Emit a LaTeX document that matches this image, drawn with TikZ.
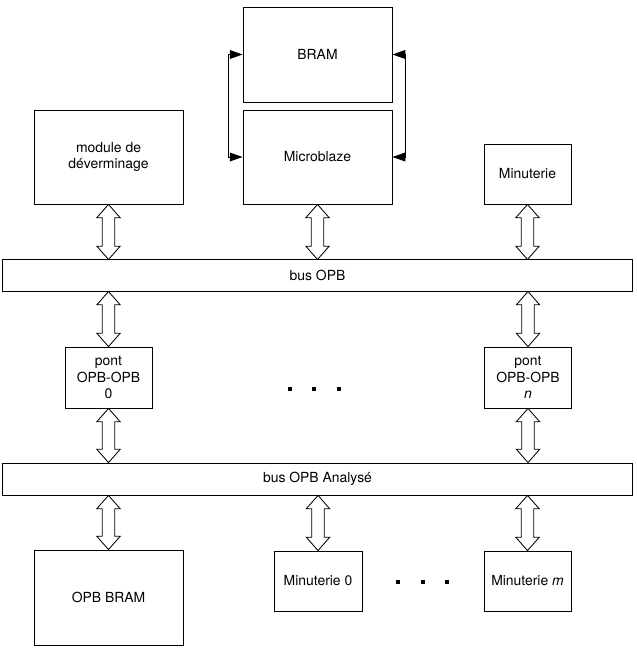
\documentclass[tikz,border=0pt]{standalone}
\usepackage{fontspec}
\setmainfont{TeX Gyre Heros}
\usetikzlibrary{arrows.meta, calc, positioning}

\tikzset{
  block/.style={draw, line width=0.6pt, align=center, inner sep=0pt,
    font=\fontsize{9.9}{11.6}\selectfont},
  bigblock/.style={block, minimum width=3.725cm, minimum height=2.35cm},
  smallblock/.style={block, minimum width=2.175cm, minimum height=1.5cm},
  bus/.style={block, minimum width=15.725cm, minimum height=0.78cm},
  busarrow/.style={draw, fill=white, line width=0.6pt, line join=miter,
    to path={-- ($(\tikztostart)+(11.7,13.3)$) -- ($(\tikztostart)+(6.2,13.3)$)
      -- ($(\tikztotarget)+(6.2,-13.3)$) -- ($(\tikztotarget)+(11.7,-13.3)$)
      -- (\tikztotarget)
      -- ($(\tikztotarget)+(-11.7,-13.3)$) -- ($(\tikztotarget)+(-6.2,-13.3)$)
      -- ($(\tikztostart)+(-6.2,13.3)$) -- ($(\tikztostart)+(-11.7,13.3)$)
      -- cycle}},
  memlink/.style={line width=0.6pt,
    {Triangle[length=0.32cm, width=0.22cm]}-{Triangle[length=0.32cm, width=0.22cm]}}
}

\begin{document}
\begin{tikzpicture}[x=0.025cm, y=-0.025cm]
  \useasboundingbox (0,0) rectangle (636,648);

  % processeur et memoire
  \node[bigblock, minimum height=2.375cm] (bram) at (317.5,54.5) {BRAM};
  \node[bigblock] (mb) at (317.5,157) {Microblaze};
  \node[bigblock] (mod) at (108.5,157) {module de\\déverminage};
  \node[smallblock] (mint) at (527.5,174) {Minuterie};

  % bus
  \node[bus] (opb) at (317.5,275.5) {bus OPB};
  \node[bus, minimum height=0.8cm] (opba) at (317.5,479) {bus OPB Analysé};

  % ponts
  \node[smallblock, minimum height=1.525cm] (pont0) at (108.5,377.5) {pont\\OPB-OPB\\0};
  \node[smallblock, minimum height=1.525cm] (pontn) at (528,377.5) {pont\\OPB-OPB\\\textit{n}};

  % peripheriques analyses
  \node[bigblock, minimum height=2.375cm] (obram) at (108.5,597.5) {OPB BRAM};
  \node[smallblock, minimum width=2.2cm] (min0) at (318,581) {Minuterie 0};
  \node[smallblock] (minm) at (527.5,581) {Minuterie \textit{m}};

  \draw[memlink] (bram.west) -- ++(-14,0) |- (mb.west);
  \draw[memlink] (bram.east) -- ++(13,0) |- (mb.east);

  \foreach \blk in {mod, mb, mint}
    \draw[busarrow] (\blk.south) to (\blk.south |- opb.north);
  \foreach \blk in {pont0, pontn}
    \draw[busarrow] (\blk.north |- opb.south) to (\blk.north);
  \foreach \blk in {pont0, pontn}
    \draw[busarrow] (\blk.south) to (\blk.south |- opba.north);
  \foreach \blk in {obram, min0, minm}
    \draw[busarrow] (\blk.north |- opba.south) to (\blk.north);

  % points de suspension
  \foreach \x in {290, 314, 339}
    \fill (\x-2,387) rectangle +(4,4);
  \foreach \x in {398, 423, 447}
    \fill (\x-2,580) rectangle +(4,4);
\end{tikzpicture}
\end{document}
